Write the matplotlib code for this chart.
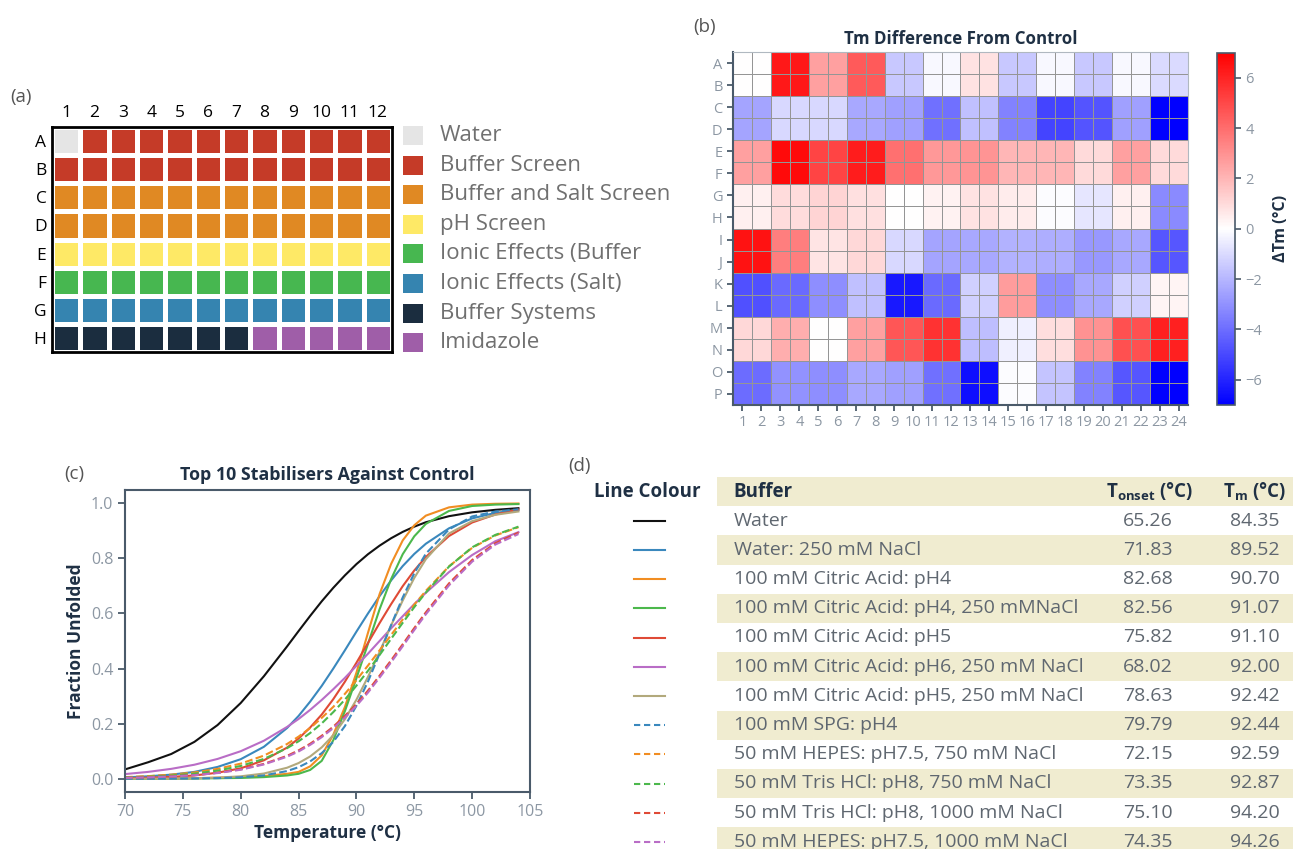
import numpy as np
import matplotlib
matplotlib.use("Agg")
import matplotlib.pyplot as plt
from matplotlib.colors import ListedColormap
from matplotlib.patches import Rectangle

W, H = 1293, 849
FONT = "Open Sans"
DARK = "#1f3044"
GREY = "#5f6770"
TICK = "#8c97a3"
SPINE = "#4a5a6a"
BAND = "#f0ecd0"

plt.rcParams["font.family"] = [FONT, "DejaVu Sans"]

# ─── (a) plate layout ───────────────────────────────────────────────────────
plate_rows = list("ABCDEFGH")
plate_cols = [str(i) for i in range(1, 13)]
screen_names = ["Water", "Buffer Screen", "Buffer and Salt Screen", "pH Screen",
                "Ionic Effects (Buffer", "Ionic Effects (Salt)", "Buffer Systems",
                "Imidazole"]
screen_colours = ["#e5e5e5", "#c53b28", "#e08923", "#fee966",
                  "#47b750", "#3584b0", "#1b2d3f", "#9f5ea8"]
plate_layout = [
    [0, 1, 1, 1, 1, 1, 1, 1, 1, 1, 1, 1],
    [1, 1, 1, 1, 1, 1, 1, 1, 1, 1, 1, 1],
    [2, 2, 2, 2, 2, 2, 2, 2, 2, 2, 2, 2],
    [2, 2, 2, 2, 2, 2, 2, 2, 2, 2, 2, 2],
    [3, 3, 3, 3, 3, 3, 3, 3, 3, 3, 3, 3],
    [4, 4, 4, 4, 4, 4, 4, 4, 4, 4, 4, 4],
    [5, 5, 5, 5, 5, 5, 5, 5, 5, 5, 5, 5],
    [6, 6, 6, 6, 6, 6, 6, 7, 7, 7, 7, 7],
]

# ─── (b) ΔTm per condition (each condition run as a 2x2 block of wells) ─────
hm_rows = list("ABCDEFGHIJKLMNOP")
hm_cols = [str(i) for i in range(1, 25)]
delta_tm = [
    [0.0, 6.3, 2.6, 4.5, -1.5, -0.2, 0.8, -1.5, -0.2, -1.5, -0.2, -1.0],
    [-2.5, -1.05, -1.05, -2.4, -2.6, -3.9, -1.7, -3.4, -5.1, -4.7, -2.6, -7.0],
    [2.6, 6.7, 5.1, 6.2, 3.9, 2.8, 2.9, 2.0, 2.0, 1.0, 2.6, 1.0],
    [0.4, 0.95, 1.2, 0.85, 0.0, 0.35, 0.8, 0.5, -0.1, -0.7, 0.4, -3.2],
    [6.5, 3.5, 0.75, 1.05, -1.05, -2.5, -2.4, -2.1, -2.2, -2.8, -2.4, -4.6],
    [-4.8, -4.1, -3.1, -1.7, -6.3, -4.1, -1.3, 2.7, -3.1, -2.4, -1.3, 0.3],
    [1.05, 2.2, 0.0, 2.6, 4.6, 5.6, -1.8, -0.4, 0.9, 3.0, 4.8, 6.1],
    [-4.0, -3.0, -3.1, -2.4, -2.6, -3.9, -6.6, -0.1, -1.6, -3.4, -4.6, -7.0],
]

# ─── (c) melt curves ────────────────────────────────────────────────────────
temps = [70, 72, 74, 76, 78, 80, 82, 84, 85, 86, 87, 88, 89, 90, 91, 92,
         93, 94, 95, 96, 98, 100, 102, 104]
frac_water = [0.034, 0.06, 0.09, 0.134, 0.195, 0.275, 0.372, 0.48, 0.536, 0.591,
              0.644, 0.693, 0.738, 0.779, 0.815, 0.846, 0.873, 0.896, 0.915,
              0.931, 0.953, 0.967, 0.976, 0.982]
frac_water_nacl = [0.005, 0.009, 0.015, 0.025, 0.043, 0.071, 0.116, 0.184, 0.228,
                   0.28, 0.337, 0.40, 0.466, 0.534, 0.60, 0.663, 0.72, 0.772,
                   0.816, 0.853, 0.909, 0.945, 0.965, 0.975]
frac_cit4 = [0.0, 0.0005, 0.001, 0.002, 0.004, 0.006, 0.01, 0.018, 0.025, 0.045,
             0.085, 0.16, 0.26, 0.385, 0.53, 0.67, 0.78, 0.865, 0.92, 0.955,
             0.985, 0.995, 0.998, 0.999]
frac_cit4_nacl = [0.0, 0.0, 0.0005, 0.001, 0.002, 0.003, 0.006, 0.012, 0.018,
                  0.032, 0.065, 0.14, 0.245, 0.365, 0.49, 0.615, 0.725, 0.815,
                  0.88, 0.925, 0.972, 0.99, 0.995, 0.997]
frac_cit5 = [0.002, 0.004, 0.007, 0.012, 0.022, 0.038, 0.067, 0.113, 0.146, 0.186,
             0.233, 0.289, 0.352, 0.421, 0.493, 0.565, 0.634, 0.699, 0.756,
             0.805, 0.881, 0.93, 0.959, 0.977]
frac_cit6_nacl = [0.017, 0.025, 0.036, 0.051, 0.072, 0.10, 0.138, 0.188, 0.217,
                  0.25, 0.286, 0.325, 0.366, 0.41, 0.454, 0.50, 0.546, 0.59,
                  0.634, 0.675, 0.75, 0.812, 0.862, 0.895]
frac_cit5_nacl = [0.0002, 0.0004, 0.0009, 0.002, 0.0042, 0.0089, 0.019, 0.04,
                  0.057, 0.081, 0.114, 0.158, 0.216, 0.287, 0.37, 0.46, 0.557,
                  0.647, 0.729, 0.797, 0.89, 0.935, 0.958, 0.97]
frac_spg4 = [0.0001, 0.0002, 0.0004, 0.001, 0.0023, 0.0054, 0.012, 0.028, 0.042,
             0.063, 0.093, 0.134, 0.191, 0.265, 0.353, 0.454, 0.558, 0.658,
             0.746, 0.817, 0.905, 0.952, 0.97, 0.978]
frac_hepes_750 = [0.006, 0.0096, 0.015, 0.023, 0.036, 0.055, 0.084, 0.126, 0.153,
                  0.184, 0.221, 0.261, 0.308, 0.358, 0.411, 0.466, 0.522, 0.578,
                  0.632, 0.682, 0.771, 0.838, 0.883, 0.913]
frac_tris_750 = [0.0046, 0.0074, 0.0118, 0.0187, 0.0296, 0.0465, 0.072, 0.111,
                 0.136, 0.166, 0.201, 0.242, 0.287, 0.338, 0.392, 0.449, 0.508,
                 0.566, 0.623, 0.676, 0.77, 0.84, 0.885, 0.915]
frac_tris_1000 = [0.0034, 0.0054, 0.0086, 0.0137, 0.0217, 0.0343, 0.054, 0.083,
                  0.103, 0.127, 0.156, 0.189, 0.228, 0.271, 0.32, 0.374, 0.43,
                  0.488, 0.547, 0.604, 0.709, 0.794, 0.855, 0.893]
frac_hepes_1000 = [0.0032, 0.0051, 0.0082, 0.013, 0.0207, 0.0328, 0.052, 0.08,
                   0.099, 0.123, 0.151, 0.184, 0.222, 0.265, 0.313, 0.367, 0.423,
                   0.481, 0.54, 0.597, 0.702, 0.788, 0.85, 0.888]

# ─── (d) summary table ──────────────────────────────────────────────────────
buffers = ["Water", "Water: 250 mM NaCl", "100 mM Citric Acid: pH4",
           "100 mM Citric Acid: pH4, 250 mMNaCl", "100 mM Citric Acid: pH5",
           "100 mM Citric Acid: pH6, 250 mM NaCl",
           "100 mM Citric Acid: pH5, 250 mM NaCl", "100 mM SPG: pH4",
           "50 mM HEPES: pH7.5, 750 mM NaCl", "50 mM Tris HCl: pH8, 750 mM NaCl",
           "50 mM Tris HCl: pH8, 1000 mM NaCl",
           "50 mM HEPES: pH7.5, 1000 mM NaCl"]
t_onset = [65.26, 71.83, 82.68, 82.56, 75.82, 68.02, 78.63, 79.79, 72.15, 73.35,
           75.10, 74.35]
t_m = [84.35, 89.52, 90.70, 91.07, 91.10, 92.00, 92.42, 92.44, 92.59, 92.87,
       94.20, 94.26]

curves = [frac_water, frac_water_nacl, frac_cit4, frac_cit4_nacl, frac_cit5,
          frac_cit6_nacl, frac_cit5_nacl, frac_spg4, frac_hepes_750,
          frac_tris_750, frac_tris_1000, frac_hepes_1000]
line_colours = ["#111111", "#3a88bd", "#f18d22", "#4cb84c", "#df4a36", "#b96dc6",
                "#b2a97c", "#3a88bd", "#f18d22", "#4cb84c", "#df4a36", "#b96dc6"]
line_styles = ["-"] * 7 + ["--"] * 5


def px(x0, y0, w, h):
    """pixel box (top-left origin) -> figure fraction rect"""
    return [x0 / W, 1 - (y0 + h) / H, w / W, h / H]


fig = plt.figure(figsize=(W / 100, H / 100), dpi=100)

# overlay in pixel coordinates for free text / table
ov = fig.add_axes([0, 0, 1, 1], zorder=-1)
ov.set_xlim(0, W)
ov.set_ylim(H, 0)
ov.axis("off")

# ── (a) ─────────────────────────────────────────────────────────────────────
ax_a = fig.add_axes(px(52, 127, 340, 225))
ax_a.pcolormesh(np.array(plate_layout), cmap=ListedColormap(screen_colours),
                vmin=-0.5, vmax=len(screen_colours) - 0.5,
                edgecolors="white", linewidth=2.2)
ax_a.set_xlim(0, 12)
ax_a.set_ylim(8, 0)
ax_a.xaxis.tick_top()
ax_a.set_xticks(np.arange(12) + 0.5, plate_cols)
ax_a.set_yticks(np.arange(8) + 0.5, plate_rows)
ax_a.tick_params(length=0, labelsize=12.5, pad=4, colors="black")
for s in ax_a.spines.values():
    s.set_linewidth(2)
    s.set_color("black")
ov.text(10, 97, "(a)", fontsize=13.5, color="#555555", va="center")

for i, (name, col) in enumerate(zip(screen_names, screen_colours)):
    yc = 135.5 + i * 29.6
    ov.add_patch(Rectangle((403, yc - 9.5), 20, 19, color=col, lw=0))
    ov.text(440, yc, name, fontsize=16, color="#707070", va="center")

# ── (b) ─────────────────────────────────────────────────────────────────────
ax_b = fig.add_axes(px(733, 52, 455, 353))
big = np.kron(np.array(delta_tm), np.ones((2, 2)))
mesh = ax_b.pcolormesh(big, cmap="bwr", vmin=-7, vmax=7,
                       edgecolors="#959595", linewidth=0.7)
ax_b.set_xlim(0, 24)
ax_b.set_ylim(16, 0)
ax_b.set_xticks(np.arange(24) + 0.5, hm_cols)
ax_b.set_yticks(np.arange(16) + 0.5, hm_rows)
ax_b.tick_params(labelsize=10.5, colors=SPINE, labelcolor=TICK, length=4, width=1.3)
for side in ("left", "bottom"):
    ax_b.spines[side].set_color(SPINE)
    ax_b.spines[side].set_linewidth(1.5)
for side in ("top", "right"):
    ax_b.spines[side].set_color("#b0b8c0")
ax_b.set_title("Tm Difference From Control", fontsize=12.2, fontweight="bold",
               color=DARK, pad=6)
ov.text(693, 27, "(b)", fontsize=13.5, color="#555555", va="center")

cax = fig.add_axes(px(1217, 52.5, 18, 352.5))
cb = fig.colorbar(mesh, cax=cax, ticks=[-6, -4, -2, 0, 2, 4, 6])
cb.outline.set_edgecolor(SPINE)
cb.outline.set_linewidth(1.2)
cax.tick_params(labelsize=10.5, colors=SPINE, labelcolor=TICK, length=4, width=1.2)
cb.set_label("ΔTm (°C)", fontsize=11.5, fontweight="bold", color=DARK, labelpad=8)

# ── (c) ─────────────────────────────────────────────────────────────────────
ax_c = fig.add_axes(px(125, 490, 405, 302))
for ys, col, ls in zip(curves, line_colours, line_styles):
    ax_c.plot(temps, ys, color=col, ls=ls, lw=1.5)
ax_c.set_xlim(70, 105)
ax_c.set_ylim(-0.048, 1.048)
ax_c.set_xticks(range(70, 106, 5))
ax_c.set_yticks(np.arange(0, 1.01, 0.2))
ax_c.yaxis.set_major_formatter(matplotlib.ticker.FormatStrFormatter("%.1f"))
ax_c.tick_params(labelsize=11.5, colors=SPINE, labelcolor=TICK, length=5, width=1.3)
for s in ax_c.spines.values():
    s.set_color(SPINE)
    s.set_linewidth(1.5)
ax_c.set_title("Top 10 Stabilisers Against Control", fontsize=12.8,
               fontweight="bold", color=DARK, pad=7)
ax_c.set_xlabel("Temperature (°C)", fontsize=12.5, fontweight="bold", color=DARK,
                labelpad=3)
ax_c.set_ylabel("Fraction Unfolded", fontsize=12.5, fontweight="bold", color=DARK)
ov.text(64, 474, "(c)", fontsize=13.5, color="#555555", va="center")

# ── (d) ─────────────────────────────────────────────────────────────────────
ov.text(568, 466, "(d)", fontsize=13.5, color="#555555", va="center")
row_h = 29.2
head_y = 491.5
ov.add_patch(Rectangle((717, head_y - row_h / 2), W - 717, row_h, color=BAND, lw=0))
ov.text(594, head_y, "Line Colour", fontsize=13.5, fontweight="bold", color=DARK,
        va="center")
ov.text(733, head_y, "Buffer", fontsize=13.5, fontweight="bold", color=DARK,
        va="center")
ov.text(1106, head_y, "T$_\\mathregular{onset}$ (°C)", fontsize=13.5,
        fontweight="bold", color=DARK, va="center")
ov.text(1223, head_y, "T$_\\mathregular{m}$ (°C)", fontsize=13.5,
        fontweight="bold", color=DARK, va="center")
for i, (name, on, tm) in enumerate(zip(buffers, t_onset, t_m)):
    yc = head_y + (i + 1) * row_h
    if i % 2 == 1:
        ov.add_patch(Rectangle((717, yc - row_h / 2), W - 717, row_h,
                               color=BAND, lw=0))
    ov.plot([634, 665], [yc, yc], color=line_colours[i], ls=line_styles[i],
            lw=1.5, dashes=(3, 1.8) if line_styles[i] == "--" else (None, None))
    ov.text(734, yc, name, fontsize=14, color=GREY, va="center")
    ov.text(1123, yc, f"{on:.2f}", fontsize=14, color=GREY, va="center")
    ov.text(1230, yc, f"{tm:.2f}", fontsize=14, color=GREY, va="center")

fig.savefig("out.png", dpi=100)
